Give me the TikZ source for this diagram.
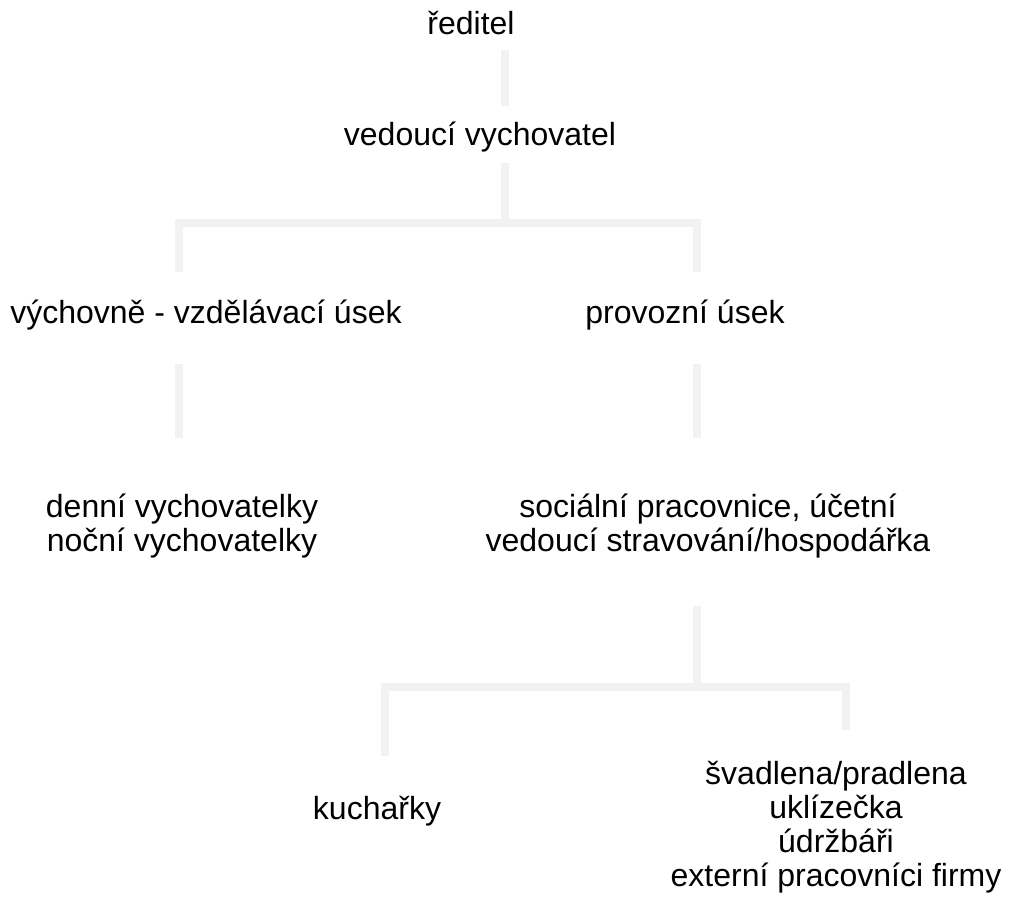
\documentclass[tikz,border=0pt]{standalone}
\usepackage{fontspec}
\setmainfont{Liberation Sans}
\tikzset{
  unit/.style={font=\fontsize{24pt}{25.5pt}\selectfont, align=center, inner sep=0pt},
  conn/.style={draw=black!5, line width=6.3pt, line join=miter}
}
\begin{document}
\begin{tikzpicture}[x=0.75pt, y=-0.75pt]
	\useasboundingbox (0,0) rectangle (1018,903);
	% units of the chart
	\node[unit, anchor=base] (reditel) at (471,35) {ředitel};
	\node[unit, anchor=base] (vedouci) at (480,145) {vedoucí vychovatel};
	\node[unit, anchor=base] (vychovne) at (206,323) {výchovně - vzdělávací úsek};
	\node[unit, anchor=base] (provozni) at (685,323) {provozní úsek};
	\node[unit, anchor=north] (vychovatelky) at (182,494) {denní vychovatelky\\noční vychovatelky};
	\node[unit, anchor=north] (socialni) at (708,494) {sociální pracovnice, účetní\\vedoucí stravování/hospodářka};
	\node[unit, anchor=base] (kucharky) at (377,819) {kuchařky};
	\node[unit, anchor=north] (svadlena) at (836,761) {švadlena/pradlena\\uklízečka\\údržbáři\\externí pracovníci firmy};
	% end points of the connectors
	\coordinate (r1) at (505,50);
	\coordinate (r2) at (505,106);
	\coordinate (v1) at (505,163);
	\coordinate (v2) at (505,223);
	\coordinate (u1) at (179,272);
	\coordinate (u2) at (697,272);
	\coordinate (d1) at (179,364);
	\coordinate (d2) at (179,438);
	\coordinate (p1) at (697,364);
	\coordinate (p2) at (697,438);
	\coordinate (s1) at (697,606);
	\coordinate (s2) at (697,687);
	\coordinate (k1) at (385,756);
	\coordinate (e1) at (846,730);
	% connectors
	\draw[conn] (r1) -- (r2);
	\draw[conn] (v1) -- (v2);
	\draw[conn] (u1) |- (v2) -| (u2);
	\draw[conn] (d1) -- (d2);
	\draw[conn] (p1) -- (p2);
	\draw[conn] (s1) -- (s2);
	\draw[conn] (k1) |- (s2) -| (e1);
\end{tikzpicture}
\end{document}
